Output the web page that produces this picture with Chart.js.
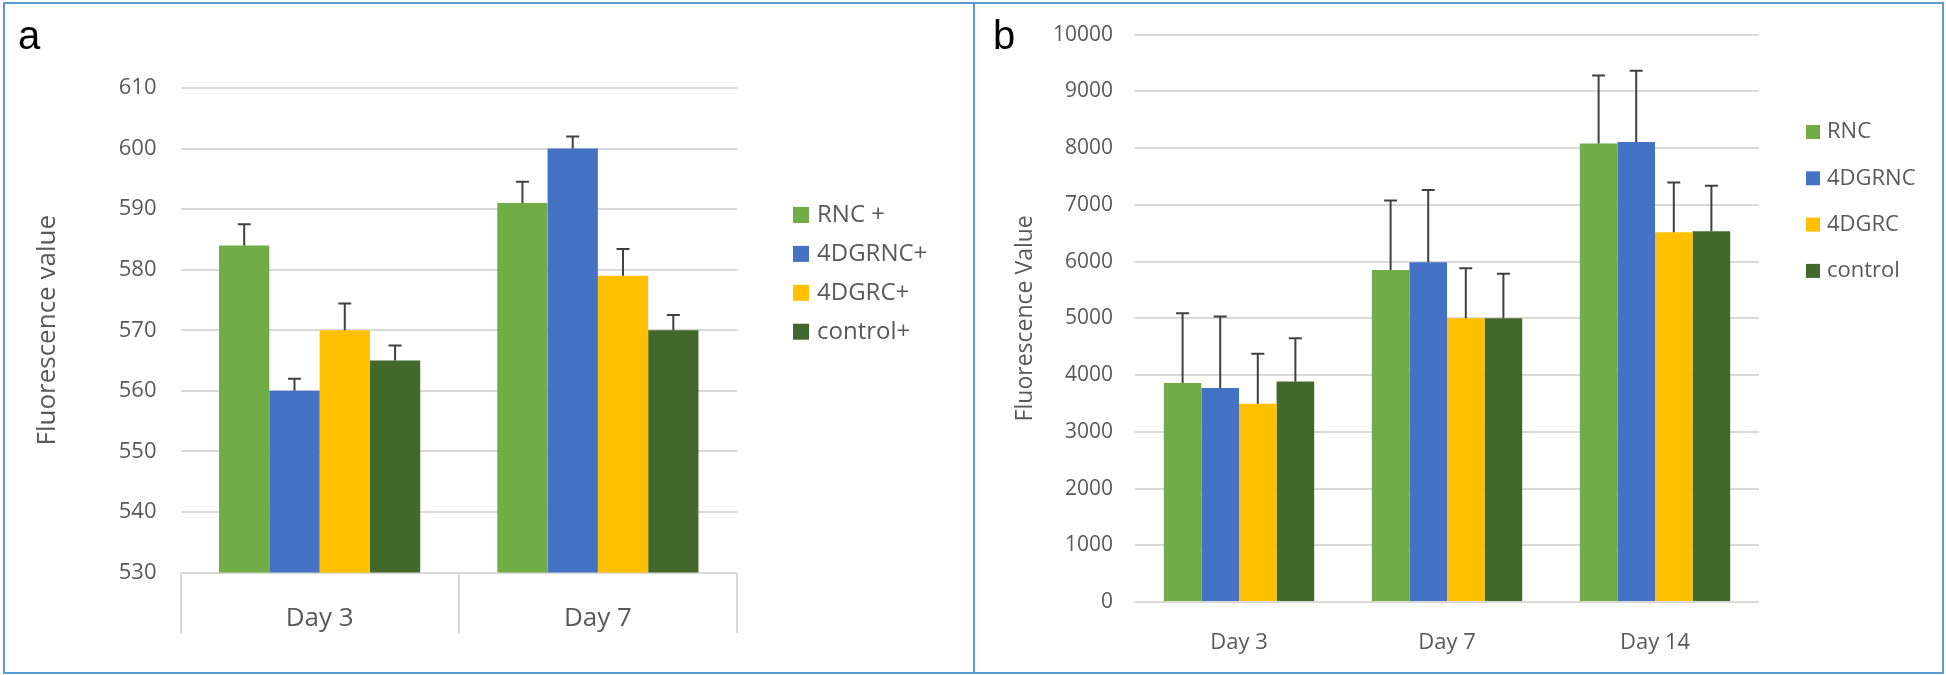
<!DOCTYPE html>
<html>
<head>
<meta charset="utf-8">
<script src="https://cdn.jsdelivr.net/npm/chart.js@4.4.1/dist/chart.umd.min.js"></script>
<style>
  html, body { margin: 0; padding: 0; background: #fff; }
  body { width: 1946px; height: 675px; position: relative; overflow: hidden; }
  .frame { position: absolute; left: 3px; top: 2px; width: 1937px; height: 668px; border: 2px solid #5B9BD5; }
  .divider { position: absolute; left: 973px; top: 2px; width: 2px; height: 672px; background: #5B9BD5; }
  .panel-letter { position: absolute; font-family: "Liberation Sans", Arial, sans-serif; font-size: 40px; color: #000; line-height: 1; }
  canvas { position: absolute; top: 0; }
  #chartA { left: 0; }
  #chartB { left: 975px; }
</style>
</head>
<body>
<div class="frame"></div>
<div class="divider"></div>
<canvas id="chartA" width="975" height="675"></canvas>
<canvas id="chartB" width="971" height="675"></canvas>
<div class="panel-letter" style="left:18px; top:15px;">a</div>
<div class="panel-letter" style="left:993px; top:15px;">b</div>
<script>
// Panel a data
const daysA = ['Day 3', 'Day 7'];
const rncA = [584, 591];
const rncAErr = [3.5, 3.5];
const dgrncA = [560, 600];
const dgrncAErr = [2, 2];
const dgrcA = [570, 579];
const dgrcAErr = [4.4, 4.4];
const controlA = [565, 570];
const controlAErr = [2.5, 2.5];
const ticksA = { min: 530, max: 610, step: 10 };

// Panel b data
const daysB = ['Day 3', 'Day 7', 'Day 14'];
const rncB = [3860, 5850, 8080];
const rncBErr = [1230, 1225, 1200];
const dgrncB = [3770, 5990, 8105];
const dgrncBErr = [1260, 1270, 1260];
const dgrcB = [3495, 5000, 6515];
const dgrcBErr = [880, 880, 880];
const controlB = [3885, 5000, 6535];
const controlBErr = [765, 785, 800];
const ticksB = { min: 0, max: 10000, step: 1000 };

const colors = ['#70AD47', '#4472C4', '#FFC000', '#43682B'];
const textGray = '#595959';
const gridGray = '#D9D9D9';
const font = 'Open Sans';

// error bars, only the plus side with a cap
const errorBarPlugin = {
    id: 'errorBars',
    afterDatasetsDraw(chart) {
        const ctx = chart.ctx;
        const yScale = chart.scales.y;
        ctx.save();
        ctx.strokeStyle = '#404040';
        ctx.lineWidth = 2;
        chart.data.datasets.forEach((ds, i) => {
            const meta = chart.getDatasetMeta(i);
            meta.data.forEach((bar, j) => {
                const top = yScale.getPixelForValue(ds.data[j] + ds.errors[j]);
                ctx.beginPath();
                ctx.moveTo(bar.x, bar.y);
                ctx.lineTo(bar.x, top);
                ctx.moveTo(bar.x - 6.5, top);
                ctx.lineTo(bar.x + 6.5, top);
                ctx.stroke();
            });
        });
        ctx.restore();
    }
};

// legend sitting to the right of the plot, Excel style
const sideLegendPlugin = {
    id: 'sideLegend',
    afterDraw(chart, args, opts) {
        const ctx = chart.ctx;
        ctx.save();
        ctx.font = opts.fontSize + 'px "' + font + '"';
        ctx.textBaseline = 'middle';
        chart.data.datasets.forEach((ds, i) => {
            const y = opts.top + i * opts.gap;
            ctx.fillStyle = ds.backgroundColor;
            ctx.fillRect(opts.x, y - opts.box / 2, opts.box, opts.box);
            ctx.fillStyle = textGray;
            ctx.fillText(ds.label, opts.textX, y);
        });
        ctx.restore();
    }
};

function makeDatasets(names, series, errors) {
    return names.map((name, i) => ({
        label: name,
        data: series[i],
        errors: errors[i],
        backgroundColor: colors[i],
        borderWidth: 0,
        categoryPercentage: 0.723,
        barPercentage: 1.0
    }));
}

// Panel a
new Chart(document.getElementById('chartA'), {
    type: 'bar',
    data: {
        labels: daysA,
        datasets: makeDatasets(
            ['RNC +', '4DGRNC+', '4DGRC+', 'control+'],
            [rncA, dgrncA, dgrcA, controlA],
            [rncAErr, dgrncAErr, dgrcAErr, controlAErr]
        )
    },
    options: {
        responsive: false,
        animation: false,
        layout: { padding: { left: 0, right: 238, top: 88, bottom: 41.5 } },
        plugins: {
            legend: { display: false },
            tooltip: { enabled: false },
            sideLegend: { x: 793, textX: 817, top: 215, gap: 38.9, box: 16, fontSize: 24 }
        },
        scales: {
            x: {
                afterFit(scale) { scale.height = 61; },
                border: { display: false },
                grid: {
                    offset: true,
                    drawOnChartArea: false,
                    drawTicks: true,
                    tickLength: 60.5,
                    color: gridGray,
                    lineWidth: 2
                },
                ticks: { color: textGray, padding: -30, font: { family: font, size: 26 } }
            },
            y: {
                min: ticksA.min,
                max: ticksA.max,
                afterFit(scale) { scale.width = 180.5; },
                border: { display: false },
                grid: { color: gridGray, lineWidth: 2, drawTicks: false },
                ticks: { stepSize: ticksA.step, color: textGray, padding: 24, font: { family: font, size: 22 } },
                title: {
                    display: true,
                    text: 'Fluorescence value',
                    color: textGray,
                    padding: { top: 32, bottom: 0 },
                    font: { family: font, size: 26, weight: 'normal' }
                }
            }
        }
    },
    plugins: [errorBarPlugin, sideLegendPlugin]
});

// Panel b
new Chart(document.getElementById('chartB'), {
    type: 'bar',
    data: {
        labels: daysB,
        datasets: makeDatasets(
            ['RNC', '4DGRNC', '4DGRC', 'control'],
            [rncB, dgrncB, dgrcB, controlB],
            [rncBErr, dgrncBErr, dgrcBErr, controlBErr]
        )
    },
    options: {
        responsive: false,
        animation: false,
        layout: { padding: { left: 0, right: 187, top: 32.8, bottom: 0 } },
        plugins: {
            legend: { display: false },
            tooltip: { enabled: false },
            sideLegend: { x: 831, textX: 852, top: 132, gap: 46.3, box: 14, fontSize: 22 }
        },
        scales: {
            x: {
                afterFit(scale) { scale.height = 73; },
                border: { display: false },
                grid: { display: false },
                ticks: { color: textGray, padding: 20, font: { family: font, size: 22 } }
            },
            y: {
                min: ticksB.min,
                max: ticksB.max,
                afterFit(scale) { scale.width = 160; },
                border: { display: false },
                grid: { color: gridGray, lineWidth: 2, drawTicks: false },
                ticks: {
                    stepSize: ticksB.step,
                    color: textGray,
                    padding: 22,
                    format: { useGrouping: false },
                    font: { family: font, size: 21 }
                },
                title: {
                    display: true,
                    text: 'Fluorescence Value',
                    color: textGray,
                    padding: { top: 37, bottom: 0 },
                    font: { family: font, size: 23, weight: 'normal' }
                }
            }
        }
    },
    plugins: [errorBarPlugin, sideLegendPlugin]
});
</script>
</body>
</html>
